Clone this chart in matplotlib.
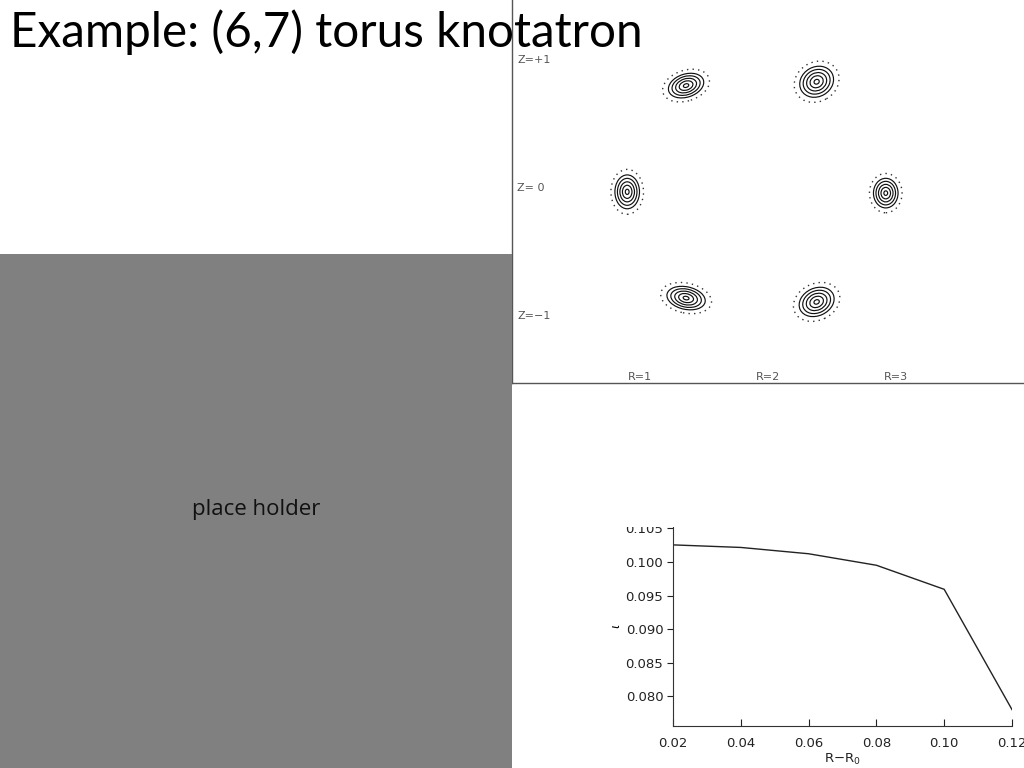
import matplotlib
matplotlib.use('Agg')
import matplotlib.pyplot as plt
from matplotlib.patches import Ellipse, Rectangle
import numpy as np

# rotational transform vs. distance from magnetic axis
r_minus_r0 = [0.02, 0.04, 0.06, 0.08, 0.10, 0.12]
iota = [0.10254, 0.10216, 0.10122, 0.09951, 0.09593, 0.07804]

# Poincare section: island centres (R, Z), semi axes and tilt
island_R = [1.36, 2.38, 0.90, 2.92, 1.36, 2.38]
island_Z = [0.80, 0.83, -0.03, -0.04, -0.86, -0.89]
island_a = [0.145, 0.14, 0.098, 0.098, 0.155, 0.145]
island_b = [0.092, 0.118, 0.135, 0.118, 0.09, 0.11]
island_tilt = [18, 30, 0, 0, -12, 25]
ring_frac = [0.15, 0.38, 0.58, 0.78, 0.98]
dot_frac = 1.3

z_labels = ['Z=+1', 'Z= 0', 'Z=\u22121']
z_pos = [1, 0, -1]
r_labels = ['R=1', 'R=2', 'R=3']
r_pos = [1, 2, 3]

W, H = 1024, 768
fig = plt.figure(figsize=(W/100, H/100), dpi=100)

def box(x0, y0, x1, y1):
    # pixel box (top-left origin) -> figure fraction rect
    return [x0/W, 1 - y1/H, (x1 - x0)/W, (y1 - y0)/H]

# grey placeholder
fig.patches.append(Rectangle((0, 0), 512/W, 1 - 254/H, transform=fig.transFigure,
                             facecolor='#808080', edgecolor='none', zorder=0))
fig.text(256/W, 1 - 509/H, 'place holder', ha='center', va='center',
         fontsize=16, family='Open Sans', color='#111111')

# Poincare plot panel
ax1 = fig.add_axes(box(512, 0, 1024, 383))
ax1.set_xlim(0, 4)
ax1.set_ylim(-(383 - 188)/128, 188/128)
for i in range(len(island_R)):
    for f in ring_frac:
        ax1.add_patch(Ellipse((island_R[i], island_Z[i]), 2*island_a[i]*f, 2*island_b[i]*f,
                              angle=island_tilt[i], fill=False, color='#111111', lw=0.85))
    ax1.add_patch(Ellipse((island_R[i], island_Z[i]), 2*island_a[i]*dot_frac, 2*island_b[i]*dot_frac,
                          angle=island_tilt[i], fill=False, color='#333333', lw=1.0,
                          linestyle=(0, (1, 3))))
for lab, z in zip(z_labels, z_pos):
    ax1.text(0.04, z, lab, ha='left', va='center', fontsize=8, color='#555555')
for lab, r in zip(r_labels, r_pos):
    ax1.text(r, -(377 - 188)/128, lab, ha='center', va='center', fontsize=8, color='#555555')
ax1.set_xticks([])
ax1.set_yticks([])
for s in ['top', 'right']:
    ax1.spines[s].set_visible(False)
for s in ['left', 'bottom']:
    ax1.spines[s].set_color('#555555')
    ax1.spines[s].set_linewidth(1.0)

# iota profile
ax2 = fig.add_axes(box(673, 527, 1012, 726))
ax2.plot(r_minus_r0, iota, color='#222222', lw=1.0)
ax2.set_xlim(0.02, 0.12)
ax2.set_ylim(0.0756, 0.1052)
ax2.set_xticks(r_minus_r0)
ax2.set_xticklabels(['%.2f' % v for v in r_minus_r0])
ax2.set_yticks([0.080, 0.085, 0.090, 0.095, 0.100, 0.105])
ax2.set_yticklabels(['0.080', '0.085', '0.090', '0.095', '0.100', '0.105'])
ax2.tick_params(axis='x', direction='in', length=5, labelsize=9.5, pad=8, colors='#222222')
ax2.tick_params(axis='y', direction='out', length=4, labelsize=9.5, pad=3, colors='#222222')
ax2.set_xlabel(r'R$-$R$_0$', fontsize=9.5, labelpad=1, color='#222222')
ax2.set_ylabel(r'$\iota$', fontsize=9, rotation=90, labelpad=2)
for s in ['top', 'right']:
    ax2.spines[s].set_visible(False)
for s in ['left', 'bottom']:
    ax2.spines[s].set_color('#333333')

# the slide crops the top of the iota figure
fig.patches.append(Rectangle((600/W, 1 - 527/H), 100/W, 20/H, transform=fig.transFigure,
                             facecolor='white', edgecolor='none', zorder=10))

fig.text(10/W, 1 - 47/H, 'Example: (6,7) torus knotatron', ha='left', va='baseline',
         fontsize=34.3, family='Lato', color='black', zorder=20)

fig.savefig('out.png', dpi=100)
